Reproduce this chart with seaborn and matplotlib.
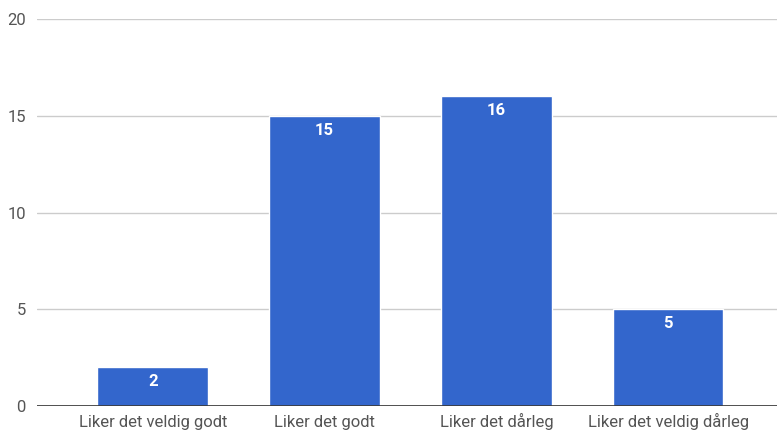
import pandas as pd
import seaborn as sns
import matplotlib.pyplot as plt

# data
kategorier = ["Liker det veldig godt", "Liker det godt", "Liker det dårleg", "Liker det veldig dårleg"]
antall = [2, 15, 16, 5]
y_ticks = [0, 5, 10, 15, 20]

df = pd.DataFrame({"kategori": kategorier, "antall": antall})

sns.set_theme(style="white")
plt.rcParams["font.family"] = ["Roboto", "DejaVu Sans"]

fig = plt.figure(figsize=(7.77, 4.34), dpi=100)
ax = fig.add_axes([0.0476, 0.0645, 0.9524, 0.8915])

sns.barplot(data=df, x="kategori", y="antall", color="#3366cc", saturation=1,
            width=0.645, ax=ax, zorder=3)

ax.set_ylim(0, 20)
ax.set_yticks(y_ticks)
ax.set_xlim(-0.674, 3.634)
ax.grid(axis="y", color="#cccccc", linewidth=1, zorder=0)
ax.axhline(0, color="#333333", linewidth=1.2, zorder=4)
for s in ax.spines.values():
    s.set_visible(False)
ax.set_xlabel("")
ax.set_ylabel("")
ax.tick_params(axis="both", length=0, labelsize=12, colors="#555555")
ax.tick_params(axis="y", pad=8)
ax.tick_params(axis="x", pad=15)
for lab in ax.get_xticklabels():
    lab.set_verticalalignment("baseline")

for i, v in enumerate(antall):
    ax.text(i, v - 0.35, str(v), ha="center", va="top", color="white",
            fontsize=12, fontweight="bold", zorder=5)

fig.savefig("out.png", dpi=100)
